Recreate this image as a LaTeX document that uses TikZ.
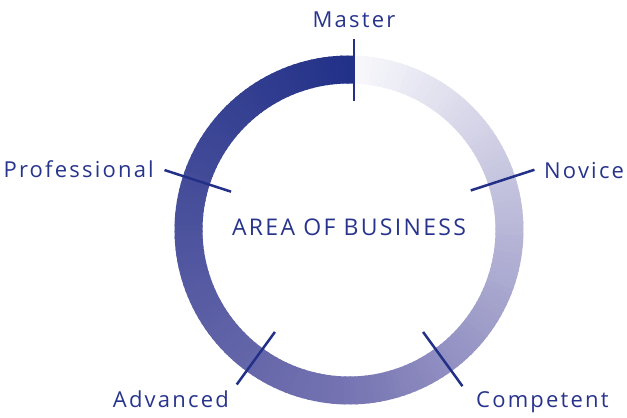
\documentclass[tikz,border=0pt]{standalone}
\usepackage{fontspec}
\setmainfont{Open Sans}[LetterSpace=10]
\usetikzlibrary{positioning}

\definecolor{ringA}{RGB}{34,49,136}
\definecolor{ringB}{RGB}{118,116,178}
\definecolor{ringC}{RGB}{250,250,253}
\definecolor{navytext}{RGB}{40,52,140}
\definecolor{navyline}{RGB}{35,48,135}

\begin{document}
\begin{tikzpicture}[
    x=1pt, y=1pt,
    level/.style={font=\fontsize{22}{24}\selectfont, text=navytext, inner sep=0pt},
    area/.style={font=\fontsize{23}{26}\selectfont, text=navytext, inner sep=0pt},
    tick/.style={draw=navyline, line width=2.5pt}
]
\useasboundingbox (-349,-188) rectangle (278,230);

% Ring
\foreach \i in {0,...,179}{
  \pgfmathsetmacro\segstart{88.2+2*\i}
  \pgfmathsetmacro\segend{\i<179 ? 88.2+2*\i+2.6 : 88.2+2*\i+2}
  \pgfmathtruncatemacro\mixp{\i<90 ? \i/0.9 : (\i-90)/0.9}
  \ifnum\i<90 \colorlet{segcol}{ringB!\mixp!ringA}\else \colorlet{segcol}{ringC!\mixp!ringB}\fi
  \fill[segcol] (\segstart:174.5) arc[start angle=\segstart, end angle=\segend, radius=174.5]
    -- (\segend:146.5) arc[start angle=\segend, end angle=\segstart, radius=146.5] -- cycle;
}

% Ticks
\coordinate (master_in) at (5,129);
\coordinate (master_out) at (5,191);
\coordinate (novice_in) at (18:128);
\coordinate (novice_out) at (18:195);
\coordinate (competent_in) at (-54:126);
\coordinate (competent_out) at (-54:193);
\coordinate (advanced_in) at (234:126);
\coordinate (advanced_out) at (234:191);
\coordinate (professional_in) at (162:124);
\coordinate (professional_out) at (162:194);

\draw[tick] (master_in) -- (master_out);
\draw[tick] (novice_in) -- (novice_out);
\draw[tick] (competent_in) -- (competent_out);
\draw[tick] (advanced_in) -- (advanced_out);
\draw[tick] (professional_in) -- (professional_out);

% Labels
\node[level, anchor=base] (master) at (5,202.7) {Master};
\node[level, anchor=base west] (novice) at (195,52) {Novice};
\node[level, anchor=base west] (competent) at (127,-177) {Competent};
\node[level, anchor=base east] (advanced) at (-120,-177.7) {Advanced};
\node[level, anchor=base east] (professional) at (-195,52.3) {Professional};

\node[area, anchor=base] (business) at (0,-5.7) {AREA OF BUSINESS};

\end{tikzpicture}
\end{document}
